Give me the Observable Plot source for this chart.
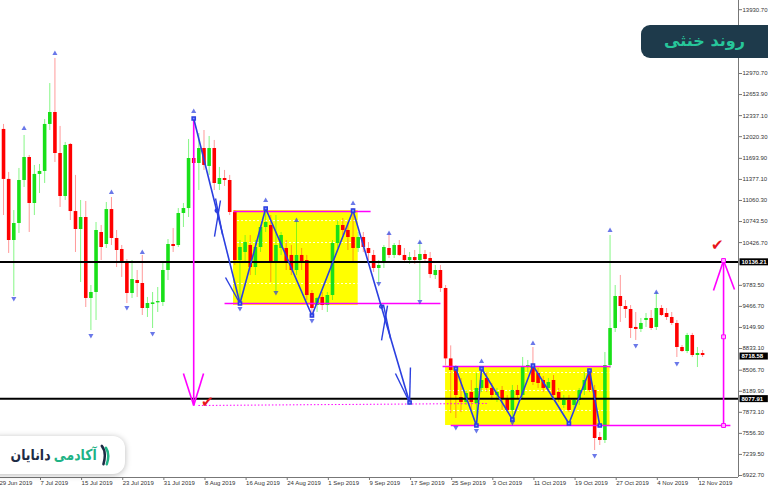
<!DOCTYPE html>
<html><head><meta charset="utf-8">
<script src="https://cdn.jsdelivr.net/npm/d3@7"></script>
<script src="https://cdn.jsdelivr.net/npm/@observablehq/plot@0.6"></script>
<style>
body{margin:0;background:#fff;}
#wrap{position:relative;width:768px;height:493px;overflow:hidden;}
#title{position:absolute;left:641px;top:25px;width:127px;height:33px;background:#1e3a4b;border-radius:9px 0 0 9px;color:#27c69a;font:bold 16px "DejaVu Sans",sans-serif;text-align:center;line-height:32px;direction:rtl;}
#logo{position:absolute;left:-14px;top:436px;width:139px;height:38px;background:#fff;border-radius:12px;box-shadow:0 1px 6px rgba(0,0,0,0.28);}
#logo .inner{position:absolute;right:14px;top:0;height:38px;display:flex;align-items:center;direction:rtl;font:bold 15px "DejaVu Sans",sans-serif;transform:scaleX(0.83);transform-origin:right center;white-space:nowrap;}
#logo .g{color:#1fb386;margin-left:4px;}
#logo .d{color:#1d2b45;}
</style></head>
<body>
<div id="wrap">
<div id="chart"></div>
<div id="title">روند خنثی</div>
<div id="logo"><div class="inner"><svg width="14" height="22" viewBox="0 0 14 22" style="margin-left:3px"><path d="M3 2 Q9 8 5 20" stroke="#1d2b45" stroke-width="3" fill="none" stroke-linecap="round"/><path d="M8 4 Q13 10 9 20" stroke="#1fb386" stroke-width="3" fill="none" stroke-linecap="round"/></svg><span class="g">آکادمی</span><span class="d">دانایان</span></div></div>
</div>
<script>
// ---- data: daily candles 30 Jun 2019 .. 13 Nov 2019 ----
const dates = d3.utcDay.range(new Date("2019-06-30T00:00Z"), new Date("2019-11-14T00:00Z"));
const open = [12129,11377,10458,10714,11361,11707,11015,11452,11497,12204,12384,11767,11120,11903,10894,10624,10804,9586,9676,10579,10398,10924,10488,10323,10127,9661,9856,9811,9435,9495,9520,9525,
10007,10398,10383,10864,10939,11692,11617,11842,11572,11842,11301,11391,11361,10879,10157,10278,10383,10052,10353,10654,10684,10127,10338,10338,10233,10007,10233,10157,9661,9480,9601,
9480,9631,10413,10684,10609,10503,10338,10503,10338,10233,10037,10127,10338,10233,10383,10233,10157,10202,10157,10248,10187,9931,10007,9736,8677,8502,8096,8021,8171,8006,
8232,8382,8232,8126,8202,8081,7901,8202,8126,8548,8577,8457,8352,8232,8352,8171,7976,8051,7976,8051,8202,8502,8202,7494,7449,8577,9134,9616,9465,9420,9150,
9120,9255,9285,9150,9435,9360,9300,9210,8848,8788,9029,8728,8758];
const high = [12204,11482,10909,11542,12038,11737,11587,11602,12279,12820,13197,12174,11933,11918,11437,11060,11045,9781,10729,10684,11030,11105,10609,10383,10172,10157,10007,10233,9601,9676,9751,10127,
10473,10639,10939,11015,11978,12309,12068,12113,12023,11963,11557,11512,11437,10909,10458,10533,10533,10458,10684,10939,10834,10834,10579,10458,10383,10744,10338,10233,9706,9601,9676,
9676,10458,10759,10789,10729,10939,10579,10579,10428,10308,10157,10383,10564,10413,10458,10338,10278,10308,10428,10308,10278,10082,10082,9781,8873,8577,8382,8202,8352,8457,
8548,8472,8307,8232,8262,8126,8277,8277,8698,8653,8848,8532,8412,8382,8427,8232,8126,8126,8081,8232,8472,8532,8277,7570,8773,10533,9781,9932,9555,9480,9375,
9285,9360,9405,9676,9480,9435,9375,9255,8878,9060,9060,8848,8803];
const low = [10834,10263,9616,10564,11256,10579,10834,11165,11316,12113,11632,10955,11060,10759,10278,9826,9450,9104,9255,10157,10338,10383,10052,9902,9510,9586,9601,9330,9300,9134,9375,9465,
9856,10278,10353,10654,10804,11060,11210,11512,11437,11210,11210,11271,10834,10082,9510,10127,9931,9931,10278,10579,9826,9676,10233,10007,9931,9931,10007,9555,9285,9375,9405,
9375,9555,10338,10533,10308,10127,10278,10278,10157,9977,9811,10037,10187,10187,10218,10127,10097,10097,9555,10127,9886,9871,9676,8572,7855,7780,7870,7976,7901,7675,
8171,8171,8051,8021,7901,7870,7765,8081,8081,8472,8277,8232,8171,8171,8081,8021,7931,7870,7901,7976,8126,8171,7299,7374,7404,8532,9074,9225,9285,8984,8954,
9074,9150,9104,9104,9315,9255,9180,8698,8773,8757,8698,8547,8698];
const close = [11377,10458,10714,11361,11707,11015,11452,11497,12204,12384,11767,11120,11888,10894,10624,10804,9586,9676,10609,10353,10924,10488,10308,10127,9661,9871,9811,9435,9510,9520,9540,10007,
10398,10368,10864,10939,11692,11617,11842,11587,11842,11316,11391,11361,10879,10157,10353,10428,10052,10353,10654,10729,10127,10383,10533,10112,10007,10233,10112,9631,9435,9586,9480,
9631,10413,10684,10609,10503,10338,10503,10353,10263,10037,10082,10353,10233,10383,10233,10157,10202,10157,10248,10172,9946,10007,9736,8677,8502,8126,8021,8156,8021,8232,
8352,8232,8126,8171,8081,7901,8202,8126,8548,8577,8322,8307,8232,8322,8126,8081,8051,7901,8051,8202,8352,8202,7479,7449,8577,9134,9616,9465,9420,9134,9120,
9210,9285,9134,9435,9330,9300,9210,8848,8788,9029,8728,8758,8728];

// ---- axis labels ----
const yTickValues = [13930.70,12970.70,12653.90,12337.10,12020.30,11693.90,11377.10,11060.30,10743.50,10426.70,9783.50,9466.70,9149.90,8833.10,8506.70,8189.90,7873.10,7556.30,7239.50,6922.70];
const xTickDates = ["2019-06-29","2019-07-07","2019-07-15","2019-07-23","2019-07-31","2019-08-08","2019-08-16","2019-08-24","2019-09-01","2019-09-09","2019-09-17","2019-09-25","2019-10-03","2019-10-11","2019-10-19","2019-10-27","2019-11-04","2019-11-12"];
const priceTags = [10136.21, 8718.58, 8077.91];

// ---- annotations (data coordinates: time, price) ----
const levelLines = [10136.21, 8077.91];
const rangeBoxes = [
  {from:"2019-08-13T18:00Z", to:"2019-09-07T00:00Z", top:10909, bottom:9480},
  {from:"2019-09-24T00:00Z", to:"2019-10-26T00:00Z", top:8563, bottom:7675}
];
const boxLevels = [
  {from:"2019-08-13T18:00Z", to:"2019-09-07T00:00Z", p:10758},
  {from:"2019-08-13T18:00Z", to:"2019-09-07T00:00Z", p:10428},
  {from:"2019-08-13T18:00Z", to:"2019-09-07T00:00Z", p:9811},
  {from:"2019-09-24T00:00Z", to:"2019-10-26T00:00Z", p:8472},
  {from:"2019-09-24T00:00Z", to:"2019-10-26T00:00Z", p:8202},
  {from:"2019-09-24T00:00Z", to:"2019-10-26T00:00Z", p:7901}
];
const magentaSegs = [
  ["2019-08-13T18:00Z",10895,"2019-09-09T10:00Z",10895],
  ["2019-08-12T00:00Z",9510,"2019-09-23T00:00Z",9510],
  ["2019-09-23T10:00Z",8563,"2019-10-26T02:00Z",8563],
  ["2019-09-25T00:00Z",7675,"2019-11-18T10:00Z",7675],
  ["2019-08-06T00:00Z",12294,"2019-08-06T00:00Z",7976],
  ["2019-08-04T00:00Z",8457,"2019-08-06T00:00Z",7976],
  ["2019-08-07T22:00Z",8457,"2019-08-06T00:00Z",7976],
  ["2019-11-17T02:00Z",7675,"2019-11-17T02:00Z",10157],
  ["2019-11-15T03:00Z",9706,"2019-11-17T02:00Z",10157],
  ["2019-11-19T05:00Z",9721,"2019-11-17T02:00Z",10157]
];
const magentaDotted = [["2019-08-06T22:00Z",7976,"2019-10-02T00:00Z",8006]];
const magentaSquares = [["2019-11-17T02:00Z",10157],["2019-11-17T02:00Z",9009],["2019-11-17T02:00Z",7675]];
const checkMarks = [["2019-08-08T16:00Z",8020],["2019-11-15T22:00Z",10390]];
const zigzag1 = [["2019-08-06T00:00Z",12294],["2019-08-15T00:00Z",9510],["2019-08-20T00:00Z",10940],["2019-08-29T00:00Z",9330],["2019-09-06T00:00Z",10909],["2019-09-17T00:00Z",8021]];
const zigzag2 = [["2019-09-26T00:00Z",8532],["2019-09-30T00:00Z",7675],["2019-10-01T00:00Z",8532],["2019-10-07T00:00Z",7765],["2019-10-11T00:00Z",8577],["2019-10-18T00:00Z",7705],["2019-10-22T00:00Z",8502],["2019-10-24T00:00Z",7675]];
const blueSegs = [
  ["2019-08-12T04:30Z",9902,"2019-08-15T00:00Z",9510],
  ["2019-08-10T01:00Z",10518,"2019-08-11T05:00Z",11060],
  ["2019-08-11T14:30Z",10548,"2019-08-10T06:00Z",11090],
  ["2019-09-11T13:00Z",8954,"2019-09-12T17:00Z",9480],
  ["2019-09-13T07:00Z",8984,"2019-09-11T22:00Z",9495],
  ["2019-09-14T06:00Z",8457,"2019-09-17T00:00Z",8021],
  ["2019-09-17T04:00Z",8547,"2019-09-17T00:00Z",8021]
];
const blueCircles = [["2019-08-10T12:00Z",10909],["2019-09-11T12:00Z",9465]];
const fractalUp = [["2019-07-04",12143],["2019-07-10",13272],["2019-07-21",11180],["2019-07-27",10278],["2019-08-06",12399],["2019-08-20",11060],["2019-08-26",10759],["2019-09-06",11015],["2019-09-13",10564],["2019-09-19",10428],["2019-10-01",8638],["2019-10-11",8908],["2019-10-26",10609],["2019-11-04",9676]];
const fractalDown = [["2019-07-02",9586],["2019-07-17",9029],["2019-07-24",9450],["2019-07-29",9059],["2019-08-15",9435],["2019-08-22",9676],["2019-08-29",9255],["2019-09-11",9811],["2019-09-19",9540],["2019-09-26",7645],["2019-09-30",7600],["2019-10-07",7720],["2019-10-23",7224],["2019-10-31",8879],["2019-11-08",8608]];

// ---- build ----
const T = s => new Date(s.length <= 10 ? s + "T00:00Z" : s);
const candles = dates.map((d,i)=>({date:d, open:open[i], high:high[i], low:low[i], close:close[i]}));
const bull = candles.filter(d=>d.close>=d.open), bear = candles.filter(d=>d.close<d.open);
const seg = a => a.map(s=>({x1:T(s[0]), y1:s[1], x2:T(s[2]), y2:s[3]}));
const pts = a => a.map(s=>({x:T(s[0]), y:s[1]}));
const xDomain = [T("2019-06-29T09:53Z"), T("2019-11-19T23:46Z")];
const yDomain = [6892.5, 14069];
const BLUE = "#2b3fe0", MAG = "#ff00ff";
const tagText = d => d.toFixed(2);

const chart = Plot.plot({
  width: 768, height: 493,
  marginLeft: 0, marginRight: 30, marginTop: 0, marginBottom: 16,
  style: {fontFamily: "'Liberation Sans', Arial, sans-serif", fontSize: "6px", background: "#fff", overflow: "hidden"},
  x: {type: "utc", domain: xDomain, axis: null},
  y: {domain: yDomain, axis: null},
  marks: [
    Plot.rect(rangeBoxes, {x1: d=>T(d.from), x2: d=>T(d.to), y1: "bottom", y2: "top", fill: "#ffff00"}),
    Plot.ruleY(boxLevels, {y: "p", x1: d=>T(d.from), x2: d=>T(d.to), stroke: "#fff", strokeDasharray: "2,2", strokeOpacity: 0.9}),
    Plot.ruleX(bull, {x: "date", y1: "low", y2: "high", stroke: "#22ee22", strokeOpacity: 0.55}),
    Plot.ruleX(bear, {x: "date", y1: "low", y2: "high", stroke: "#ff2020", strokeOpacity: 0.45}),
    Plot.ruleX(bull, {x: "date", y1: "open", y2: "close", stroke: "#19e019", strokeWidth: 3.6}),
    Plot.ruleX(bear, {x: "date", y1: "open", y2: "close", stroke: "#ff0000", strokeWidth: 3.6}),
    Plot.link(seg(magentaDotted), {x1:"x1", y1:"y1", x2:"x2", y2:"y2", stroke: MAG, strokeDasharray: "1.5,2", strokeWidth: 1}),
    Plot.ruleY(levelLines, {stroke: "#000", strokeWidth: 2}),
    Plot.link(seg(magentaSegs), {x1:"x1", y1:"y1", x2:"x2", y2:"y2", stroke: MAG, strokeWidth: 1.6}),
    Plot.dot(pts(magentaSquares), {x:"x", y:"y", symbol: "square", r: 2.2, stroke: MAG, fill: "#ffb0ff", strokeWidth: 1}),
    Plot.line(pts(zigzag1), {x:"x", y:"y", stroke: BLUE, strokeWidth: 1.6}),
    Plot.line(pts(zigzag2), {x:"x", y:"y", stroke: BLUE, strokeWidth: 1.6}),
    Plot.link(seg(blueSegs), {x1:"x1", y1:"y1", x2:"x2", y2:"y2", stroke: BLUE, strokeWidth: 1.4}),
    Plot.dot(pts(blueCircles), {x:"x", y:"y", r: 1.6, stroke: BLUE, fill: "none"}),
    Plot.dot(pts(zigzag1).concat(pts(zigzag2)), {x:"x", y:"y", symbol: "square", r: 1.8, stroke: BLUE, fill: "#8090ff"}),
    Plot.dot(pts(fractalUp), {x:"x", y:"y", symbol: "triangle", r: 1.9, fill: BLUE, fillOpacity: 0.7}),
    Plot.dot(pts(fractalDown), {x:"x", y:"y", symbol: "triangle", rotate: 180, r: 1.9, fill: BLUE, fillOpacity: 0.7}),
    Plot.text(pts(checkMarks), {x:"x", y:"y", text: ()=>"✔", fill: "#e8141b", fontSize: 15}),
    Plot.ruleX([xDomain[1]], {stroke: "#777", strokeWidth: 1}),
    Plot.ruleY([yDomain[0]], {stroke: "#777", strokeWidth: 1}),
    Plot.axisY(yTickValues, {anchor: "right", tickFormat: d=>d.toFixed(2), tickSize: 3, tickPadding: 1, fontSize: 6, fill: "#333", stroke: "#777"}),
    Plot.axisX(xTickDates.map(T), {anchor: "bottom", tickFormat: d3.utcFormat("%-d %b %Y"), tickSize: 3, tickPadding: 0, textAnchor: "start", dx: 1, fontSize: 6, fill: "#333", stroke: "#777"}),
    Plot.text(priceTags, {y: d=>d, text: tagText, frameAnchor: "right", textAnchor: "start", dx: 3, fill: "#fff", fontSize: 6, fontWeight: "bold"})
  ]
});
document.getElementById("chart").appendChild(chart);
// black backgrounds behind the highlighted price tags
const tagStrings = new Set(priceTags.map(tagText));
chart.querySelectorAll("text").forEach(t => {
  if (!tagStrings.has(t.textContent.trim())) return;
  const b = t.getBBox();
  const r = document.createElementNS("http://www.w3.org/2000/svg", "rect");
  r.setAttribute("x", b.x - 2); r.setAttribute("y", b.y - 0.5);
  r.setAttribute("width", b.width + 6); r.setAttribute("height", b.height + 1);
  r.setAttribute("fill", "#000");
  if (t.getAttribute("transform")) r.setAttribute("transform", t.getAttribute("transform"));
  t.parentNode.insertBefore(r, t);
});
</script>
</body></html>
